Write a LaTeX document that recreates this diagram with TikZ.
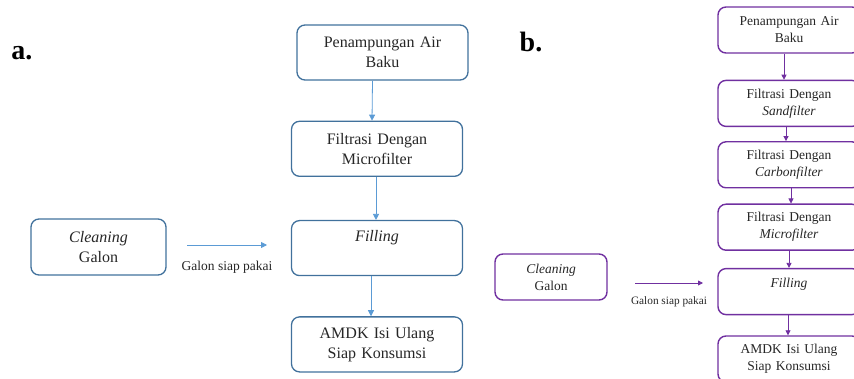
\documentclass[tikz,border=0pt]{standalone}
\usepackage{fontspec}
\setmainfont{Liberation Serif}
\usepackage{xcolor}
\usetikzlibrary{arrows.meta,positioning}

\definecolor{boxblue}{HTML}{41719C}
\definecolor{arrblue}{HTML}{5B9BD5}
\definecolor{boxpurple}{HTML}{7030A0}
\definecolor{txtgrey}{HTML}{262626}

\begin{document}
\begin{tikzpicture}[
                x=1pt, y=-1pt,
                ablock/.style={rectangle, rounded corners=8pt, draw=boxblue, line width=1.3pt, text=txtgrey, text width=160pt, align=center, minimum width=171pt, minimum height=55pt, font=\fontsize{16}{20}\selectfont},
                bblock/.style={rectangle, rounded corners=8pt, draw=boxpurple, line width=1.4pt, text=txtgrey, text width=135pt, align=center, minimum width=142pt, minimum height=46pt, font=\fontsize{13.5}{17}\selectfont},
                aarrow/.style={-{Triangle[length=6pt,width=6pt]}, arrblue, line width=0.8pt},
                barrow/.style={-{Triangle[length=5pt,width=5pt]}, boxpurple, line width=0.8pt},
                panel/.style={font=\fontsize{28}{30}\selectfont\bfseries}
            ]
                \useasboundingbox (0,0) rectangle (854,379);

                % Panel a
                \node[panel] (lbla) at (22,53) {a.};
                \node[ablock] (a1) at (382.5,52.5) {Penampungan Air\\Baku};
                \node[ablock, below=40pt of a1, xshift=-5.5pt] (a2) {Filtrasi Dengan\\Microfilter};
                \node[ablock, below=43pt of a2] (a3) {\textit{Filling}\\[-2pt]\strut};
                \node[ablock, below=40pt of a3] (a4) {AMDK Isi Ulang\\Siap Konsumsi};
                \node[ablock, text width=125pt, minimum width=135pt, minimum height=56pt] (ca) at (98.5,247) {\textit{Cleaning}\\Galon};

                \draw[aarrow] ([xshift=-10pt]a1.south) -- ([xshift=-5pt]a2.north);
                \draw[aarrow] ([xshift=-1pt]a2.south) -- ([xshift=-1pt]a3.north);
                \draw[aarrow] ([xshift=-6pt]a3.south) -- ([xshift=-6pt]a4.north);

                % Galon arrow (free ends)
                \coordinate (ga1) at (187,245);
                \coordinate (ga2) at (267,245);
                \draw[aarrow] (ga1) -- node[below=12pt, text=txtgrey, font=\fontsize{13.5}{15}\selectfont] (lbl-a) {Galon siap pakai} (ga2);

                % Panel b
                \node[panel] (lblb) at (531,42) {b.};
                \node[bblock] (b1) at (789,30) {Penampungan Air\\Baku};
                \node[bblock, below=26pt of b1] (b2) {Filtrasi Dengan\\\textit{Sandfilter}};
                \node[bblock, below=14pt of b2] (b3) {Filtrasi Dengan\\\textit{Carbonfilter}};
                \node[bblock, below=15pt of b3] (b4) {Filtrasi Dengan\\\textit{Microfilter}};
                \node[bblock, below=17pt of b4] (b5) {\textit{Filling}\\[-4pt]\strut};
                \node[bblock, below=20pt of b5] (b6) {AMDK Isi Ulang\\Siap Konsumsi};
                \node[bblock, text width=100pt, minimum width=112pt] (cb) at (551,277) {\textit{Cleaning}\\Galon};

                \draw[barrow] ([xshift=-5pt]b1.south) -- ([xshift=-5pt]b2.north);
                \draw[barrow] ([xshift=-3pt]b2.south) -- ([xshift=-3pt]b3.north);
                \draw[barrow] ([xshift=2pt]b3.south) -- ([xshift=2pt]b4.north);
                \draw[barrow] ([xshift=0pt]b4.south) -- ([xshift=0pt]b5.north);
                \draw[barrow] ([xshift=-1pt]b5.south) -- ([xshift=-1pt]b6.north);

                % Galon arrow (free ends)
                \coordinate (gb1) at (635,283);
                \coordinate (gb2) at (703,283);
                \draw[barrow] (gb1) -- node[below=10pt, text=txtgrey, font=\fontsize{11.3}{13}\selectfont] (lbl-b) {Galon siap pakai} (gb2);
            \end{tikzpicture}
\end{document}
